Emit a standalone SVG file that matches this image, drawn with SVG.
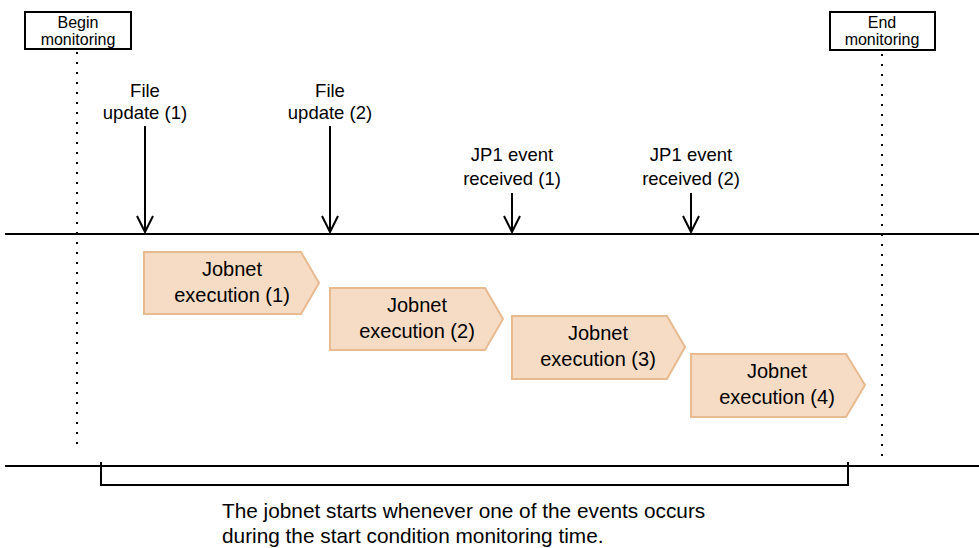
<svg xmlns="http://www.w3.org/2000/svg" width="979" height="548" viewBox="0 0 979 548">
<defs>
<style>
text{font-family:"Liberation Sans",Arial,sans-serif;fill:#000;text-anchor:middle}
.lbl{font-size:18.5px}
.box{font-size:16px}
.job{font-size:20px}
.note{font-size:20.8px;text-anchor:start}
.frame{fill:#fff;stroke:#000;stroke-width:2}
.dot{stroke:#000;stroke-width:2;stroke-dasharray:2 8;fill:none}
.axis{stroke:#000;stroke-width:2;fill:none}
.arr{stroke:#000;stroke-width:2;fill:none}
.pent{fill:#F6DCC5;stroke:#E8BA90;stroke-width:2}
</style>
</defs>
<rect width="979" height="548" fill="#fff"/>
<g id="axes">
<line class="axis" x1="5" y1="234" x2="979" y2="234"/>
<line class="axis" x1="5" y1="466" x2="979" y2="466"/>
<polyline class="axis" points="101,462 101,485 848,485 848,462" stroke-width="1.5"/>
</g>
<g id="begin-monitoring">
<rect class="frame" x="25" y="12" width="106" height="37"/>
<text class="box" x="78" y="28">Begin</text>
<text class="box" x="78" y="45">monitoring</text>
</g>
<g id="end-monitoring">
<rect class="frame" x="830" y="12" width="105" height="38"/>
<text class="box" x="882" y="28">End</text>
<text class="box" x="882" y="45">monitoring</text>
</g>
<g id="connectors">
<line class="dot" x1="77" y1="52" x2="77" y2="450"/>
<line class="dot" x1="882" y1="54" x2="882" y2="460"/>
<line class="arr" x1="145" y1="126" x2="145" y2="232"/>
<polyline class="arr" points="137,216 145,232 153,216"/>
<line class="arr" x1="330" y1="126" x2="330" y2="232"/>
<polyline class="arr" points="322,216 330,232 338,216"/>
<line class="arr" x1="512" y1="193" x2="512" y2="232"/>
<polyline class="arr" points="504,216 512,232 520,216"/>
<line class="arr" x1="691" y1="193" x2="691" y2="232"/>
<polyline class="arr" points="683,216 691,232 699,216"/>
</g>
<g id="file-update-1">
<text class="lbl" x="145" y="97">File</text>
<text class="lbl" x="145" y="119">update (1)</text>
</g>
<g id="file-update-2">
<text class="lbl" x="330" y="97">File</text>
<text class="lbl" x="330" y="119">update (2)</text>
</g>
<g id="jp1-event-1">
<text class="lbl" x="512" y="161">JP1 event</text>
<text class="lbl" x="512" y="185">received (1)</text>
</g>
<g id="jp1-event-2">
<text class="lbl" x="691" y="161">JP1 event</text>
<text class="lbl" x="691" y="185">received (2)</text>
</g>
<g id="jobnet-1">
<polygon class="pent" points="144,252 301,252 319,283 301,314 144,314"/>
<text class="job" x="232" y="276">Jobnet</text>
<text class="job" x="232" y="302">execution (1)</text>
</g>
<g id="jobnet-2">
<polygon class="pent" points="330,288 485,288 503,319 485,350 330,350"/>
<text class="job" x="417" y="312">Jobnet</text>
<text class="job" x="417" y="338">execution (2)</text>
</g>
<g id="jobnet-3">
<polygon class="pent" points="512,316 667,316 685,347 667,379 512,379"/>
<text class="job" x="598" y="340">Jobnet</text>
<text class="job" x="598" y="366">execution (3)</text>
</g>
<g id="jobnet-4">
<polygon class="pent" points="691,354 846,354 865,385 846,417 691,417"/>
<text class="job" x="777" y="378">Jobnet</text>
<text class="job" x="777" y="404">execution (4)</text>
</g>
<g id="note">
<text class="note" x="222" y="518">The jobnet starts whenever one of the events occurs</text>
<text class="note" x="222" y="543">during the start condition monitoring time.</text>
</g>
</svg>
